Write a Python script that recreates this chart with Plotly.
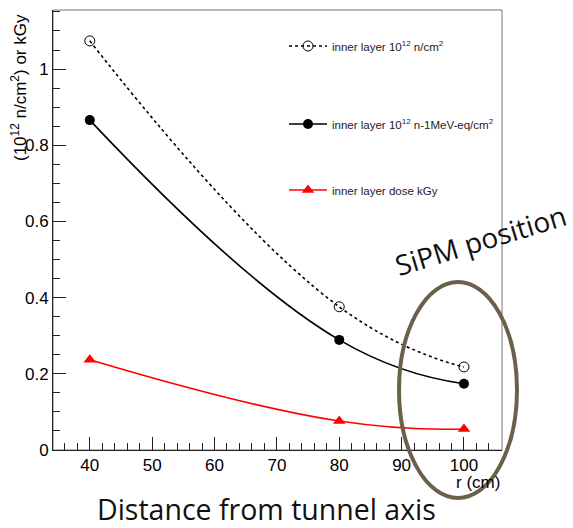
import plotly.graph_objects as go

r_cm = [40, 80, 100]
fluence_n = [1.074, 0.376, 0.218]
fluence_neq = [0.866, 0.289, 0.174]
dose_kgy = [0.237, 0.076, 0.055]

names = [
    "inner layer 10<sup>12</sup> n/cm<sup>2</sup>",
    "inner layer 10<sup>12</sup> n-1MeV-eq/cm<sup>2</sup>",
    "inner layer dose kGy",
]

W, H = 573, 528
L, R, T, B = 53, 71, 10, 78
pw, ph = W - L - R, H - T - B


def px(x):
    return (x - L) / pw


def py(y):
    return (H - B - y) / ph


fig = go.Figure()
fig.add_trace(go.Scatter(
    x=r_cm, y=fluence_n, name=names[0], mode="lines+markers",
    line=dict(color="black", width=1.6, dash="dot", shape="spline", smoothing=1.3),
    marker=dict(symbol="circle-open", size=10, color="black", line=dict(width=1)),
    legend="legend", cliponaxis=False))
fig.add_trace(go.Scatter(
    x=r_cm, y=fluence_neq, name=names[1], mode="lines+markers",
    line=dict(color="black", width=1.6, shape="spline", smoothing=1.3),
    marker=dict(symbol="circle", size=10, color="black"),
    legend="legend2", cliponaxis=False))
fig.add_trace(go.Scatter(
    x=r_cm, y=dose_kgy, name=names[2], mode="lines+markers",
    line=dict(color="#ff0000", width=1.6, shape="spline", smoothing=1.3),
    marker=dict(symbol="triangle-up", size=11, color="#ff0000"),
    legend="legend3", cliponaxis=False))

tickfont = dict(family="Liberation Sans, Arial", size=17, color="black")
legfont = dict(family="Liberation Sans, Arial", size=11.5, color="#222")

axis_common = dict(
    showgrid=False, zeroline=False, showline=True, linecolor="#222", linewidth=1,
    ticks="inside", ticklen=13, tickcolor="#222", tickfont=tickfont,
    ticklabelstandoff=0,
)

leg_x = px(284)
fig.update_layout(
    width=W, height=H,
    margin=dict(l=L, r=R, t=T, b=B),
    paper_bgcolor="white", plot_bgcolor="white",
    xaxis=dict(range=[34.1, 106.1], tickvals=[40, 50, 60, 70, 80, 90, 100],
               minor=dict(dtick=2, tick0=0, ticks="inside", ticklen=7, tickcolor="#222"),
               **axis_common),
    yaxis=dict(range=[0, 1.155], tickvals=[0, 0.2, 0.4, 0.6, 0.8, 1.0],
               ticktext=["0", "0.2", "0.4", "0.6", "0.8", "1"],
               minor=dict(dtick=0.05, tick0=0, ticks="inside", ticklen=7, tickcolor="#222"),
               **axis_common),
    legend=dict(x=leg_x, y=py(46), xanchor="left", yanchor="middle",
                bgcolor="rgba(0,0,0,0)", font=legfont, itemwidth=38),
    legend2=dict(x=leg_x, y=py(124), xanchor="left", yanchor="middle",
                 bgcolor="rgba(0,0,0,0)", font=legfont, itemwidth=38),
    legend3=dict(x=leg_x, y=py(190), xanchor="left", yanchor="middle",
                 bgcolor="rgba(0,0,0,0)", font=legfont, itemwidth=38),
    showlegend=True,
)

# frame (top/right)
fig.add_shape(type="rect", xref="paper", yref="paper", x0=0, x1=1, y0=0, y1=1,
              line=dict(color="#777", width=1), layer="below")

# ellipse highlighting SiPM position
fig.add_shape(type="circle", xref="paper", yref="paper",
              x0=px(399), x1=px(517), y0=py(498), y1=py(282),
              line=dict(color="#6b604a", width=4))

fig.add_annotation(text="(10<sup>12</sup> n/cm<sup>2</sup>) or kGy", textangle=-90,
                   xref="paper", yref="paper", x=px(19), y=py(88),
                   xanchor="center", yanchor="middle",
                   showarrow=False, font=dict(family="Liberation Sans, Arial", size=17, color="black"))
fig.add_annotation(text="r (cm)", xref="paper", yref="paper", x=1.0, y=py(482),
                   xanchor="right", yanchor="middle", showarrow=False,
                   font=dict(family="Liberation Sans, Arial", size=17, color="black"))
fig.add_annotation(text="Distance from tunnel axis", xref="paper", yref="paper",
                   x=px(266), y=py(509), xanchor="center", yanchor="middle", showarrow=False,
                   borderpad=0, font=dict(family="Open Sans", size=28.5, color="#111"))
fig.add_annotation(text="SiPM position", xref="paper", yref="paper",
                   x=px(480), y=py(240), xanchor="center", yanchor="middle", showarrow=False,
                   textangle=-17, font=dict(family="Open Sans", size=28, color="#111"))

fig.write_html("out.html")
